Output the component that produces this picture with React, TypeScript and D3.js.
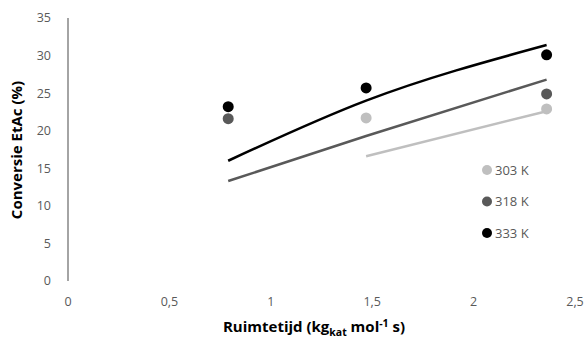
import * as d3 from 'd3';

const xTicks = [0, 0.5, 1, 1.5, 2, 2.5];
const yTicks = [0, 5, 10, 15, 20, 25, 30, 35];

const seriesNames = ['303 K', '318 K', '333 K'];
const seriesColors = ['#bfbfbf', '#595959', '#000000'];

// measured points [x, y]
const measured303: [number, number][] = [[1.47, 21.7], [2.36, 22.9]];
const measured318: [number, number][] = [[0.79, 21.6], [2.36, 24.9]];
const measured333: [number, number][] = [[0.79, 23.2], [1.47, 25.7], [2.36, 30.1]];

// model lines
const model303: [number, number][] = [[1.47, 16.6], [2.36, 22.6]];
const model318: [number, number][] = [[0.79, 13.3], [1.47, 19.3], [2.36, 26.8]];
const model333: [number, number][] = [[0.79, 16.0], [1.47, 24.0], [2.36, 31.4]];

const measured = [measured303, measured318, measured333];
const models = [model303, model318, model333];

const fmt = (v: number) => String(v).replace('.', ',');

export default function App() {
  const width = 586;
  const height = 340;
  const x = d3.scaleLinear().domain([0, 2.5]).range([68, 575]);
  const y = d3.scaleLinear().domain([0, 35]).range([281, 18]);
  const line = d3.line<[number, number]>().x(d => x(d[0])).y(d => y(d[1])).curve(d3.curveMonotoneX);
  const font = "'Open Sans', sans-serif";

  return (
    <svg width={width} height={height} style={{ position: 'absolute', left: 0, top: 0 }}>
      <rect width={width} height={height} fill="#fff" />
      <line x1={x(0)} x2={x(0)} y1={y(0)} y2={y(35)} stroke="#868686" strokeWidth={1.5} />
      {yTicks.map(t => (
        <text key={t} x={51} y={y(t)} dy="0.35em" textAnchor="end" fontSize={12.5} fontFamily={font} fill="#595959">
          {t}
        </text>
      ))}
      {xTicks.map(t => (
        <text key={t} x={x(t)} y={302} dy="0.35em" textAnchor="middle" fontSize={12.5} fontFamily={font} fill="#595959">
          {fmt(t)}
        </text>
      ))}
      {models.map((m, i) => (
        <path key={i} d={line(m) || ''} fill="none" stroke={seriesColors[i]} strokeWidth={2.5} />
      ))}
      {measured.map((s, i) =>
        s.map((p, j) => <circle key={`${i}-${j}`} cx={x(p[0])} cy={y(p[1])} r={5.5} fill={seriesColors[i]} />)
      )}
      {seriesNames.map((n, i) => (
        <g key={n} transform={`translate(487,${170 + i * 31.5})`}>
          <circle r={5} fill={seriesColors[i]} />
          <text x={8} dy="0.35em" fontSize={13} fontFamily={font} fill="#595959">{n}</text>
        </g>
      ))}
      <text
        transform="translate(17,150) rotate(-90)"
        textAnchor="middle"
        dy="0.35em"
        fontSize={15}
        fontWeight="bold"
        fontFamily={font}
        fill="#000"
      >
        Conversie EtAc (%)
      </text>
      <text x={314} y={327} dy="0.35em" textAnchor="middle" fontSize={15} fontWeight="bold" fontFamily={font} fill="#000">
        Ruimtetijd (kg
        <tspan fontSize={10.5} dy={4}>kat</tspan>
        <tspan dy={-4}> mol</tspan>
        <tspan fontSize={10.5} dy={-5}>-1</tspan>
        <tspan dy={5}> s)</tspan>
      </text>
    </svg>
  );
}
